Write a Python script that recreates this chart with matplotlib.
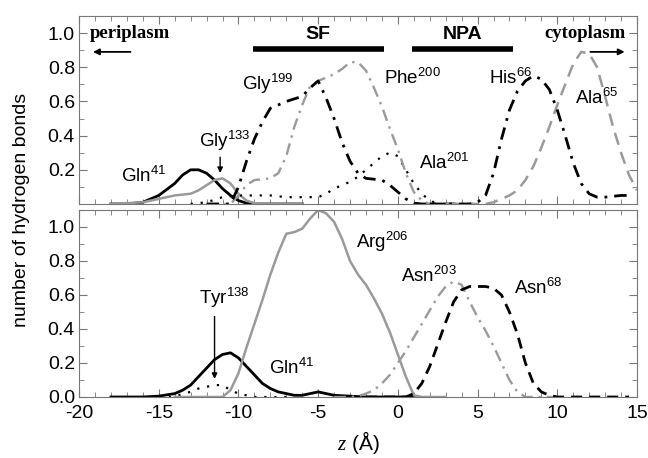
import numpy as np
import matplotlib
matplotlib.use('Agg')
import matplotlib.pyplot as plt
from matplotlib.ticker import MultipleLocator

plt.rcParams['font.family'] = ['Liberation Sans', 'DejaVu Sans']
plt.rcParams['mathtext.fontset'] = 'custom'
plt.rcParams['mathtext.rm'] = 'Liberation Sans'
plt.rcParams['mathtext.it'] = 'Liberation Serif:italic'
plt.rcParams['mathtext.default'] = 'regular'
plt.rcParams['axes.unicode_minus'] = False

# ---- top panel data (z in Angstrom, number of H-bonds) ----
gln41_z = [-18, -17, -16, -15, -14, -13.5, -13, -12.5, -12, -11.5, -11, -10.5, -10, -9.5, -9, -8, -6]
gln41_v = [0, 0, 0.01, 0.05, 0.12, 0.17, 0.2, 0.2, 0.18, 0.14, 0.09, 0.05, 0.02, 0.005, 0, 0, 0]

gly133_z = [-18, -16, -15, -14, -13, -12.5, -12, -11.5, -11, -10.5, -10, -9.5, -9, -8, -6]
gly133_v = [0, 0.01, 0.03, 0.05, 0.06, 0.08, 0.11, 0.14, 0.15, 0.12, 0.06, 0.02, 0.005, 0, 0]

gly199_z = [-12, -10.5, -10, -9.5, -9, -8.5, -8, -7, -6, -5.5, -5, -4.5, -4, -3.5, -3, -2.5, -2, -1, -0.5, 0, 0.5, 1, 1.5, 4]
gly199_v = [0, 0, 0.1, 0.25, 0.38, 0.48, 0.56, 0.6, 0.63, 0.68, 0.72, 0.62, 0.5, 0.36, 0.25, 0.18, 0.15, 0.14, 0.11, 0.07, 0.03, 0.005, 0, 0]

phe200_z = [-12, -10.5, -10, -9.5, -9, -8, -7.5, -7, -6.5, -6, -5.5, -5, -4.5, -4, -3.5, -3, -2.5, -2, -1.5, -1, -0.5, 0, 0.5, 1, 1.5, 2, 4]
phe200_v = [0, 0, 0.05, 0.11, 0.14, 0.15, 0.18, 0.28, 0.45, 0.58, 0.69, 0.72, 0.74, 0.76, 0.79, 0.83, 0.83, 0.78, 0.68, 0.57, 0.44, 0.32, 0.18, 0.07, 0.02, 0, 0]

ala201_z = [-13, -12, -11, -10, -9, -8, -7, -6, -5, -4.5, -4, -3.5, -3, -2.5, -2, -1.5, -1, -0.5, 0, 0.5, 1, 1.5, 2, 2.5, 5]
ala201_v = [0, 0.01, 0.04, 0.05, 0.05, 0.05, 0.04, 0.04, 0.04, 0.06, 0.09, 0.11, 0.13, 0.16, 0.2, 0.24, 0.28, 0.3, 0.28, 0.2, 0.12, 0.06, 0.02, 0, 0]

his66_z = [2, 4.5, 5, 5.5, 6, 6.5, 7, 7.5, 8, 8.5, 9, 9.5, 10, 10.5, 11, 11.5, 12, 12.5, 13, 14, 14.6]
his66_v = [0, 0, 0.01, 0.05, 0.18, 0.38, 0.55, 0.66, 0.72, 0.75, 0.73, 0.67, 0.55, 0.4, 0.24, 0.12, 0.06, 0.04, 0.04, 0.05, 0.05]

ala65_z = [3, 5.5, 6, 6.5, 7, 7.5, 8, 8.5, 9, 9.5, 10, 10.5, 11, 11.5, 12, 12.5, 13, 13.5, 14, 14.5, 15]
ala65_v = [0, 0, 0.01, 0.03, 0.05, 0.08, 0.14, 0.22, 0.33, 0.45, 0.58, 0.7, 0.82, 0.89, 0.88, 0.8, 0.63, 0.45, 0.3, 0.17, 0.08]

# ---- bottom panel data ----
arg206_z = [-14, -11, -10.5, -10, -9.5, -9, -8.5, -8, -7.5, -7, -6.5, -6, -5.5, -5, -4.5, -4, -3.5, -3, -2.5, -2, -1.5, -1, -0.5, 0, 0.5, 1, 1.5, 3]
arg206_v = [0, 0, 0.04, 0.14, 0.29, 0.43, 0.57, 0.72, 0.85, 0.96, 0.97, 0.99, 1.05, 1.1, 1.08, 1.03, 0.93, 0.8, 0.72, 0.66, 0.58, 0.49, 0.38, 0.25, 0.12, 0.01, 0, 0]

gln41b_z = [-18, -16, -15, -14, -13.5, -13, -12.5, -12, -11.5, -11, -10.5, -10, -9.5, -9, -8.5, -8, -7.5, -7, -6.5, -6, -5.5, -5, -4.5, -4, -3, -2, 1]
gln41b_v = [0, 0, 0.005, 0.02, 0.04, 0.07, 0.12, 0.17, 0.22, 0.25, 0.26, 0.23, 0.18, 0.13, 0.08, 0.05, 0.03, 0.02, 0.01, 0.01, 0.02, 0.03, 0.02, 0.01, 0.005, 0, 0]

tyr138_z = [-15, -14, -13.5, -13, -12.5, -12, -11.5, -11, -10.5, -10, -9.5, -9, -7]
tyr138_v = [0, 0, 0.02, 0.03, 0.05, 0.06, 0.07, 0.07, 0.04, 0.02, 0.01, 0, 0]

asn203_z = [-4, -3, -2.5, -2, -1.5, -1, -0.5, 0, 0.5, 1, 1.5, 2, 2.5, 3, 3.5, 4, 4.5, 5, 5.5, 6, 6.5, 7, 7.5, 8, 10]
asn203_v = [0, 0, 0.005, 0.02, 0.04, 0.08, 0.13, 0.2, 0.27, 0.35, 0.43, 0.51, 0.59, 0.65, 0.68, 0.66, 0.56, 0.47, 0.39, 0.3, 0.2, 0.1, 0.03, 0, 0]

asn68_z = [-2, 0.5, 1, 1.5, 2, 2.5, 3, 3.5, 4, 4.5, 5, 5.5, 6, 6.5, 7, 7.5, 8, 8.5, 9, 9.5, 10, 14.5]
asn68_v = [0, 0, 0.02, 0.08, 0.18, 0.31, 0.44, 0.56, 0.63, 0.65, 0.65, 0.65, 0.64, 0.6, 0.5, 0.37, 0.2, 0.08, 0.03, 0.01, 0, 0]

GRAY = '#9a9a9a'
BLACK_SOLID = dict(color='black', lw=2.0)
GRAY_SOLID = dict(color=GRAY, lw=1.8)
BLACK_DASHDOT = dict(color='black', lw=2.0, ls=(0, (4.5, 2.5, 1, 2.5)))
GRAY_DASHDOT = dict(color=GRAY, lw=1.7, ls=(0, (5, 2.5, 1, 2.5)))
BLACK_DOT = dict(color='black', lw=1.6, ls=(0, (1, 3.5)))
GRAY_DASH = dict(color=GRAY, lw=1.8, ls=(0, (5, 3)))
BLACK_DASH = dict(color='black', lw=2.0, ls=(0, (4, 2.5)))

fig = plt.figure(figsize=(6.48, 4.58), dpi=100)
ax1 = fig.add_axes([0.122, 0.5546, 0.861, 0.4105])
ax2 = fig.add_axes([0.122, 0.1332, 0.861, 0.4083])

for ax in (ax1, ax2):
    ax.set_xlim(-20, 15)
    ax.set_ylim(0, 1.1)
    ax.xaxis.set_major_locator(MultipleLocator(5))
    ax.xaxis.set_minor_locator(MultipleLocator(1))
    ax.yaxis.set_major_locator(MultipleLocator(0.2))
    ax.yaxis.set_minor_locator(MultipleLocator(0.1))
    ax.tick_params(which='both', direction='in', top=True, right=True,
                   color='#777777', labelsize=14, pad=3)
    ax.tick_params(which='major', length=6)
    ax.tick_params(which='minor', length=3.5)
    for sp in ax.spines.values():
        sp.set_color('#777777')
ax2.tick_params(axis='x', pad=6)

# ── top panel ──
ax1.plot(gln41_z, gln41_v, **BLACK_SOLID)
ax1.plot(gly133_z, gly133_v, **GRAY_SOLID)
ax1.plot(ala201_z, ala201_v, **BLACK_DOT)
ax1.plot(phe200_z, phe200_v, **GRAY_DASHDOT)
ax1.plot(gly199_z, gly199_v, **BLACK_DASHDOT)
ax1.plot(ala65_z, ala65_v, **GRAY_DASH)
ax1.plot(his66_z, his66_v, **BLACK_DASHDOT)

ax1.set_yticks([0.2, 0.4, 0.6, 0.8, 1.0])
ax1.set_yticklabels(['0.2', '0.4', '0.6', '0.8', '1.0'])
ax1.tick_params(labelbottom=False)

# region bars
ax1.plot([-9.1, -0.9], [0.905, 0.905], color='black', lw=4, solid_capstyle='butt')
ax1.plot([0.9, 7.2], [0.905, 0.905], color='black', lw=4, solid_capstyle='butt')
ax1.text(-5, 0.99, 'SF', ha='center', va='center', fontsize=14, fontweight='bold')
ax1.text(4.05, 0.99, 'NPA', ha='center', va='center', fontsize=14, fontweight='bold')

# compartments
ax1.text(-19.3, 1.0, 'periplasm', ha='left', va='center', fontsize=13.5,
         fontweight='bold', family='Liberation Serif')
ax1.text(14.3, 1.0, 'cytoplasm', ha='right', va='center', fontsize=13.5,
         fontweight='bold', family='Liberation Serif')
ax1.annotate('', xy=(-19.3, 0.89), xytext=(-16.6, 0.89),
             arrowprops=dict(arrowstyle='-|>', color='black', lw=1.3, mutation_scale=9))
ax1.annotate('', xy=(14.4, 0.89), xytext=(11.9, 0.89),
             arrowprops=dict(arrowstyle='-|>', color='black', lw=1.3, mutation_scale=9))

lab = dict(fontsize=13.5, va='center', ha='left')
ax1.text(-17.4, 0.165, 'Gln$^{41}$', **lab)
ax1.text(-12.5, 0.37, 'Gly$^{133}$', **lab)
ax1.annotate('', xy=(-11.15, 0.165), xytext=(-11.15, 0.29),
             arrowprops=dict(arrowstyle='-|>', color='black', lw=1.0, mutation_scale=8))
ax1.text(-9.8, 0.7, 'Gly$^{199}$', **lab)
ax1.text(-0.85, 0.74, 'Phe$^{200}$', **lab)
ax1.text(1.3, 0.24, 'Ala$^{201}$', **lab)
ax1.text(5.7, 0.74, 'His$^{66}$', **lab)
ax1.text(11.1, 0.62, 'Ala$^{65}$', **lab)

# ── bottom panel ──
ax2.plot(tyr138_z, tyr138_v, **BLACK_DOT)
ax2.plot(gln41b_z, gln41b_v, **BLACK_SOLID)
ax2.plot(arg206_z, arg206_v, **GRAY_SOLID)
ax2.plot(asn203_z, asn203_v, **GRAY_DASHDOT)
ax2.plot(asn68_z, asn68_v, **BLACK_DASH)

ax2.text(-12.5, 0.58, 'Tyr$^{138}$', **lab)
ax2.annotate('', xy=(-11.5, 0.09), xytext=(-11.5, 0.49),
             arrowprops=dict(arrowstyle='-|>', color='black', lw=1.0, mutation_scale=8))
ax2.text(-8.1, 0.17, 'Gln$^{41}$', **lab)
ax2.text(-2.6, 0.91, 'Arg$^{206}$', **lab)
ax2.text(0.2, 0.71, 'Asn$^{203}$', **lab)
ax2.text(7.3, 0.64, 'Asn$^{68}$', **lab)

ax2.set_xlabel('$\\mathit{z}$ (Å)', fontsize=15, labelpad=5)
fig.text(0.033, 0.541, 'number of hydrogen bonds', rotation=90,
         ha='center', va='center', fontsize=14)

fig.savefig('out.png', dpi=100)
